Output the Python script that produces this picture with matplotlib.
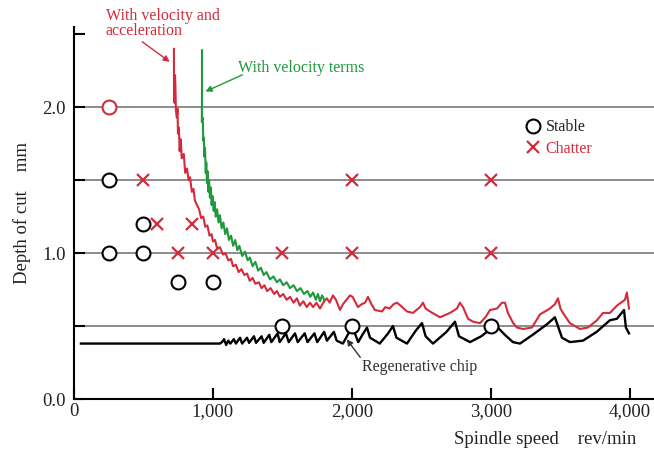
import numpy as np
import matplotlib
matplotlib.use('Agg')
import matplotlib.pyplot as plt
from matplotlib.lines import Line2D
from matplotlib.ticker import FuncFormatter

plt.rcParams['font.family'] = ['Liberation Serif', 'DejaVu Serif']

RED = '#d42a3c'
GREEN = '#1e9a3c'

# Stability limit with velocity and acceleration terms
red_x = [719, 720, 724, 727, 730, 733, 740, 745, 748, 755, 760, 768, 775, 790, 800, 813, 825, 835,
         848, 860, 870, 885, 900, 915, 930, 945, 960, 975, 990, 1000, 1015, 1030, 1050, 1072, 1090,
         1110, 1130, 1144, 1165, 1185, 1205, 1225, 1245, 1265, 1285, 1305, 1330, 1350, 1370, 1390,
         1415, 1440, 1460, 1482, 1505, 1530, 1555, 1580, 1604, 1625, 1650, 1675, 1698, 1720, 1745,
         1770, 1800, 1820, 1840, 1863, 1885, 1914, 1935, 1960, 1986, 2005, 2043, 2070, 2094, 2115,
         2140, 2165, 2216, 2240, 2270, 2300, 2324, 2350, 2396, 2439, 2489, 2511, 2530, 2561, 2633,
         2705, 2755, 2777, 2799, 2835, 2871, 2921, 2960, 2993, 3043, 3079, 3101, 3122, 3160, 3187,
         3230, 3295, 3353, 3424, 3460, 3482, 3500, 3518, 3568, 3640, 3698, 3763, 3806, 3856, 3906,
         3964, 3978, 3993]
red_y = [2.40, 2.05, 2.03, 2.22, 2.14, 1.98, 1.93, 1.99, 1.82, 1.86, 1.70, 1.78, 1.65, 1.68, 1.55,
         1.58, 1.50, 1.52, 1.42, 1.44, 1.36, 1.33, 1.30, 1.24, 1.25, 1.18, 1.19, 1.12, 1.13, 1.08,
         1.09, 1.03, 1.04, 0.99, 1.00, 0.95, 0.96, 0.91, 0.92, 0.87, 0.89, 0.85, 0.86, 0.81, 0.83,
         0.79, 0.80, 0.76, 0.78, 0.74, 0.76, 0.72, 0.74, 0.70, 0.72, 0.68, 0.70, 0.66, 0.69, 0.64,
         0.67, 0.63, 0.66, 0.63, 0.66, 0.62, 0.67, 0.69, 0.66, 0.71, 0.68, 0.61, 0.65, 0.68, 0.71,
         0.70, 0.63, 0.65, 0.66, 0.70, 0.65, 0.61, 0.60, 0.63, 0.62, 0.65, 0.66, 0.64, 0.60, 0.59,
         0.63, 0.66, 0.62, 0.60, 0.56, 0.59, 0.62, 0.66, 0.63, 0.55, 0.53, 0.52, 0.56, 0.61, 0.62,
         0.66, 0.66, 0.59, 0.52, 0.49, 0.48, 0.49, 0.58, 0.62, 0.65, 0.69, 0.62, 0.59, 0.52, 0.48,
         0.49, 0.54, 0.59, 0.59, 0.64, 0.68, 0.73, 0.62]

# Stability limit with velocity terms only
green_x = [921, 921, 920, 925, 928, 930, 935, 938, 943, 948, 952, 957, 962, 967, 972, 978, 985, 990,
           997, 1005, 1012, 1020, 1030, 1040, 1050, 1062, 1075, 1088, 1101, 1115, 1130, 1145, 1160,
           1175, 1190, 1210, 1230, 1250, 1266, 1285, 1305, 1325, 1345, 1365, 1385, 1410, 1435, 1460,
           1482, 1505, 1530, 1555, 1580, 1604, 1630, 1655, 1680, 1700, 1720, 1740, 1755, 1770, 1785,
           1800]
green_y = [2.39, 2.10, 1.90, 1.93, 1.88, 1.77, 1.79, 1.66, 1.72, 1.55, 1.62, 1.48, 1.56, 1.42, 1.50,
           1.38, 1.45, 1.33, 1.39, 1.29, 1.35, 1.25, 1.30, 1.21, 1.26, 1.17, 1.21, 1.13, 1.17, 1.09,
           1.12, 1.05, 1.09, 1.02, 1.05, 0.98, 1.01, 0.95, 0.97, 0.91, 0.94, 0.88, 0.90, 0.85, 0.87,
           0.82, 0.84, 0.80, 0.82, 0.78, 0.80, 0.76, 0.78, 0.74, 0.76, 0.72, 0.74, 0.70, 0.73, 0.68,
           0.72, 0.67, 0.71, 0.68]

# Regenerative chip limit
black_x = [50, 1050, 1065, 1080, 1095, 1110, 1125, 1150, 1165, 1195, 1210, 1245, 1260, 1295, 1310,
           1350, 1365, 1405, 1420, 1465, 1480, 1525, 1545, 1590, 1610, 1660, 1680, 1730, 1750, 1800,
           1820, 1870, 1890, 1935, 1975, 2005, 2045, 2075, 2108, 2130, 2200, 2260, 2295, 2320, 2396,
           2460, 2504, 2530, 2583, 2680, 2741, 2770, 2849, 2930, 2971, 3029, 3100, 3158, 3209, 3300,
           3400, 3460, 3511, 3568, 3662, 3760, 3856, 3906, 3957, 3971, 3993]
black_y = [0.38, 0.38, 0.39, 0.41, 0.37, 0.40, 0.38, 0.41, 0.38, 0.42, 0.38, 0.42, 0.385, 0.43, 0.385,
           0.43, 0.385, 0.44, 0.39, 0.45, 0.39, 0.45, 0.39, 0.45, 0.39, 0.45, 0.39, 0.45, 0.39, 0.46,
           0.40, 0.46, 0.40, 0.38, 0.45, 0.49, 0.39, 0.44, 0.49, 0.42, 0.38, 0.45, 0.50, 0.42, 0.38,
           0.47, 0.52, 0.43, 0.38, 0.46, 0.53, 0.43, 0.39, 0.43, 0.46, 0.51, 0.44, 0.39, 0.38, 0.44,
           0.51, 0.56, 0.42, 0.39, 0.40, 0.46, 0.54, 0.55, 0.61, 0.49, 0.45]

# Cutting tests
stable_x = [250, 250, 500, 500, 750, 1000, 1500, 2000, 3000]
stable_y = [1.5, 1.0, 1.2, 1.0, 0.8, 0.8, 0.5, 0.5, 0.5]
stable_red_x = [250]
stable_red_y = [2.0]
chatter_x = [500, 600, 850, 750, 1000, 1500, 2000, 2000, 3000, 3000]
chatter_y = [1.5, 1.2, 1.2, 1.0, 1.0, 1.0, 1.5, 1.0, 1.5, 1.0]

fig = plt.figure(figsize=(6.54, 4.53), dpi=100)
ax = fig.add_axes([0.1131, 0.1192, 0.8869, 0.8212])
ax.set_xlim(0, 4173)
ax.set_ylim(0, 2.55)

for yv in [0.5, 1.0, 1.5, 2.0]:
    ax.axhline(yv, color='#6e6e6e', lw=1.1, zorder=1)

ax.plot(black_x, black_y, color='black', lw=1.7, zorder=3)
ax.plot(red_x, red_y, color=RED, lw=1.5, zorder=3)
ax.plot(green_x, green_y, color=GREEN, lw=1.5, zorder=4)

ax.plot(stable_x, stable_y, 'o', ms=10, mfc='white', mec='black', mew=1.5, zorder=5)
ax.plot(stable_red_x, stable_red_y, 'o', ms=10, mfc='white', mec=RED, mew=1.5, zorder=5)
ax.plot(chatter_x, chatter_y, 'x', ms=9, mec=RED, mew=1.6, zorder=5)

for s in ['top', 'right']:
    ax.spines[s].set_visible(False)
for s in ['left', 'bottom']:
    ax.spines[s].set_linewidth(1.5)

ax.set_xticks([0, 1000, 2000, 3000, 4000])
ax.xaxis.set_major_formatter(FuncFormatter(lambda v, p: f'{int(v):,}'))
ax.set_yticks([0.0, 1.0, 2.0])
ax.set_yticks([0.5, 1.5, 2.5], minor=True)
ax.yaxis.set_major_formatter(FuncFormatter(lambda v, p: f'{v:.1f}'))
ax.tick_params(axis='both', direction='in', length=8, width=1.5, labelsize=13.5,
               labelcolor='#222222')
ax.tick_params(axis='y', which='minor', direction='in', length=8, width=1.5)
ax.tick_params(axis='y', pad=6)
ax.tick_params(axis='x', pad=3)

ax.text(-0.09, 0.5, 'Depth of cut    mm', transform=ax.transAxes, rotation=90,
        ha='center', va='center', fontsize=13.5, color='#222222')
ax.text(0.812, -0.108, 'Spindle speed    rev/min', transform=ax.transAxes,
        ha='center', va='center', fontsize=13.5, color='#222222')

ax.text(230, 2.68, 'With velocity and\nacceleration', color=RED, fontsize=11.5,
        ha='left', va='top', linespacing=0.95, clip_on=False)
ax.annotate('', xy=(705, 2.30), xytext=(475, 2.46),
            arrowprops=dict(arrowstyle='-|>', color=RED, lw=1.0, mutation_scale=9))
ax.text(1180, 2.27, 'With velocity terms', color=GREEN, fontsize=11.5, ha='left', va='center')
ax.annotate('', xy=(928, 2.10), xytext=(1230, 2.23),
            arrowprops=dict(arrowstyle='-|>', color=GREEN, lw=1.0, mutation_scale=9))
ax.text(2072, 0.22, 'Regenerative chip', color='#333333', fontsize=11.5, ha='left', va='center')
ax.annotate('', xy=(1950, 0.425), xytext=(2072, 0.27),
            arrowprops=dict(arrowstyle='-|>', color='#333333', lw=1.0, mutation_scale=9))

handles = [Line2D([], [], ls='none', marker='o', ms=10, mfc='white', mec='black', mew=1.5),
           Line2D([], [], ls='none', marker='x', ms=9, mec=RED, mew=1.6)]
ax.legend(handles, ['Stable', 'Chatter'], loc='upper left', bbox_to_anchor=(0.755, 0.79),
          frameon=False, fontsize=11.5, handlelength=0.8, handletextpad=0.4,
          labelspacing=0.35, labelcolor=['#222222', RED])

fig.savefig('out.png', dpi=100)
